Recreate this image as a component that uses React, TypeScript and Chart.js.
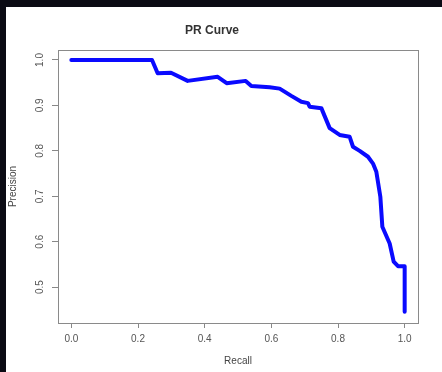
import React, { useEffect, useRef } from "react";
import { Chart, registerables } from "chart.js";

Chart.register(...registerables);

const recall = [0, 0.242, 0.259, 0.299, 0.349, 0.439, 0.466, 0.523, 0.54, 0.595, 0.625, 0.66, 0.69, 0.71, 0.715, 0.75, 0.775, 0.805, 0.835, 0.845, 0.865, 0.89, 0.905, 0.915, 0.927, 0.933, 0.955, 0.967, 0.98, 1.0, 1.0];
const precision = [1.0, 1.0, 0.971, 0.972, 0.954, 0.963, 0.949, 0.954, 0.943, 0.94, 0.937, 0.921, 0.908, 0.905, 0.897, 0.894, 0.85, 0.835, 0.831, 0.809, 0.8, 0.787, 0.772, 0.754, 0.699, 0.633, 0.596, 0.556, 0.546, 0.546, 0.446];
const xTicks = [0, 0.2, 0.4, 0.6, 0.8, 1.0];
const yTicks = [0.5, 0.6, 0.7, 0.8, 0.9, 1.0];

const FONT = "'Liberation Sans', Arial, Helvetica, sans-serif";

const boxPlugin = {
  id: "boxPlugin",
  afterDatasetsDraw(chart: any) {
    const { ctx, chartArea } = chart;
    ctx.save();
    ctx.strokeStyle = "#8a8a8a";
    ctx.lineWidth = 1;
    ctx.strokeRect(
      Math.round(chartArea.left) + 0.5,
      Math.round(chartArea.top) + 0.5,
      Math.round(chartArea.right - chartArea.left),
      Math.round(chartArea.bottom - chartArea.top)
    );
    ctx.restore();
  },
};

export default function App() {
  const ref = useRef<HTMLCanvasElement | null>(null);
  useEffect(() => {
    if (!ref.current) return;
    const data = recall.map((r, i) => ({ x: r, y: precision[i] }));
    const chart = new Chart(ref.current, {
      type: "scatter",
      data: {
        datasets: [
          {
            data,
            showLine: true,
            borderColor: "#0a0aff",
            borderWidth: 4,
            pointRadius: 0,
            tension: 0,
            borderJoinStyle: "round",
            borderCapStyle: "round",
          } as any,
        ],
      },
      options: {
        responsive: false,
        animation: false,
        layout: { padding: { left: 0, right: 24, top: 0, bottom: 0 } },
        plugins: {
          legend: { display: false },
          tooltip: { enabled: false },
          title: {
            display: true,
            text: "PR Curve",
            color: "#333",
            font: { family: FONT, size: 12, weight: "bold" },
            padding: { top: 16, bottom: 12.6 },
          },
        },
        scales: {
          x: {
            type: "linear",
            min: -0.04,
            max: 1.04,
            afterBuildTicks: (s: any) => {
              s.ticks = xTicks.map((v) => ({ value: v }));
            },
            afterFit: (s: any) => {
              s.height = 49;
              s.paddingLeft = 0;
              s.paddingRight = 0;
            },
            grid: { drawOnChartArea: false, drawTicks: true, tickLength: 5, color: "#888" },
            border: { display: false },
            ticks: {
              color: "#555",
              font: { family: FONT, size: 10 },
              padding: 5,
              maxRotation: 0,
              autoSkip: false,
              callback: (v: any) => Number(v).toFixed(1),
            },
            title: {
              display: true,
              text: "Recall",
              color: "#444",
              font: { family: FONT, size: 10 },
              padding: { top: 0, bottom: 5 },
            },
          },
          y: {
            type: "linear",
            min: 0.421,
            max: 1.022,
            afterBuildTicks: (s: any) => {
              s.ticks = yTicks.map((v) => ({ value: v }));
            },
            afterFit: (s: any) => {
              s.width = 52;
              s.paddingTop = 0;
              s.paddingBottom = 0;
            },
            grid: { drawOnChartArea: false, drawTicks: true, tickLength: 6, color: "#888" },
            border: { display: false },
            ticks: {
              color: "#555",
              font: { family: FONT, size: 10 },
              padding: 5,
              minRotation: 90,
              maxRotation: 90,
              crossAlign: "center",
              autoSkip: false,
              callback: (v: any) => Number(v).toFixed(1),
            },
            title: {
              display: true,
              text: "Precision",
              color: "#444",
              font: { family: FONT, size: 10 },
              padding: { top: 1, bottom: 0 },
            },
          },
        },
      },
      plugins: [boxPlugin],
    } as any);
    return () => chart.destroy();
  }, []);

  return (
    <div style={{ position: "fixed", inset: 0, background: "#0b0b14" }}>
      <div style={{ position: "absolute", left: 6, top: 7, width: 436, height: 365, background: "#ffffff" }}>
        <canvas ref={ref} width={436} height={365} style={{ width: 436, height: 365, display: "block" }} />
      </div>
    </div>
  );
}
